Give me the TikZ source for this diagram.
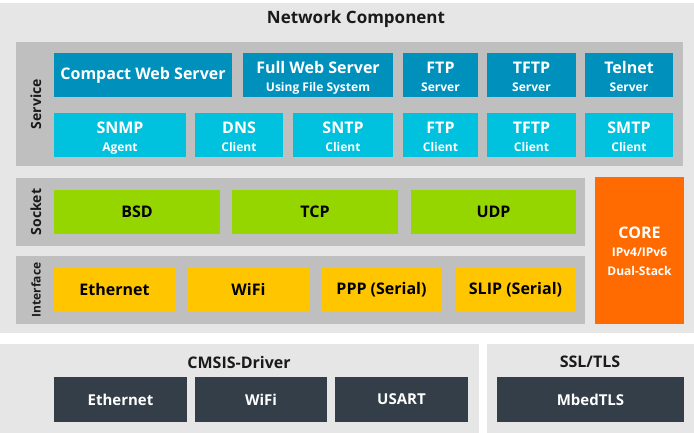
\documentclass[tikz,border=0pt]{standalone}
\usepackage{fontspec}
\setmainfont{Open Sans}
\usepackage{xcolor}
\usepackage{tikz}

\definecolor{lightpanel}{HTML}{E6E6E6}
\definecolor{midpanel}{HTML}{BFBFBF}
\definecolor{srvblue}{HTML}{0090BC}
\definecolor{cliblue}{HTML}{00C1DE}
\definecolor{sockgreen}{HTML}{95D600}
\definecolor{ifyellow}{HTML}{FFC600}
\definecolor{coreorange}{HTML}{FF6B00}
\definecolor{drvslate}{HTML}{333E48}
\definecolor{titletext}{HTML}{1A1A1A}

\newcommand{\boxsub}[1]{{\fontsize{12}{14}\selectfont #1}}

\tikzset{
  box/.style={inner sep=0pt,minimum height=44pt,align=center,font=\bfseries\fontsize{16}{21}\selectfont},
  twoline/.style={font=\bfseries\fontsize{16}{18.5}\selectfont,text height=34pt,text depth=0pt},
  srv/.style={box,fill=srvblue,text=white},
  cli/.style={box,fill=cliblue,text=white},
  sock/.style={box,fill=sockgreen,text=black},
  iface/.style={box,fill=ifyellow,text=black,minimum height=45pt},
  drv/.style={box,fill=drvslate,text=white,minimum height=45pt,font=\bfseries\fontsize{15}{18}\selectfont},
  tag/.style={rotate=90,font=\bfseries\fontsize{14}{16}\selectfont,text=titletext},
  heading/.style={font=\bfseries\fontsize{17}{20}\selectfont,text=titletext}
}

\begin{document}
\begin{tikzpicture}[x=1pt,y=-1pt]
\useasboundingbox[fill=white] (0,0) rectangle (694,433);

\fill[lightpanel] (0,3) rectangle (694,333);
\fill[lightpanel] (0,344) rectangle (479,433);
\fill[lightpanel] (487,344) rectangle (694,433);
\fill[midpanel] (16,42) rectangle (683,166);
\fill[midpanel] (16,178) rectangle (585,246);
\fill[midpanel] (16,256) rectangle (585,324);

\node (net) at (356,19) [heading] {Network Component};
\node (service) at (36,104) [tag] {Service};
\node (socket) at (36,212) [tag] {Socket};
\node (interface) at (36,290) [tag,font=\bfseries\fontsize{12}{14}\selectfont] {Interface};

\node (cws) at (143,75) [srv,minimum width=178pt] {Compact Web Server};
\node (fws) at (318,75) [srv,twoline,minimum width=150pt] {Full Web Server\\\boxsub{Using File System}};
\node (ftps) at (440.5,75) [srv,twoline,minimum width=75pt] {FTP\\\boxsub{Server}};
\node (tftps) at (531.5,75) [srv,twoline,minimum width=89pt] {TFTP\\\boxsub{Server}};
\node (telnet) at (629,75) [srv,twoline,minimum width=88pt] {Telnet\\\boxsub{Server}};

\node (snmp) at (120,135) [cli,twoline,minimum width=132pt] {SNMP\\\boxsub{Agent}};
\node (dns) at (239,135) [cli,twoline,minimum width=88pt] {DNS\\\boxsub{Client}};
\node (sntp) at (343,135) [cli,twoline,minimum width=100pt] {SNTP\\\boxsub{Client}};
\node (ftpc) at (440.5,135) [cli,twoline,minimum width=75pt] {FTP\\\boxsub{Client}};
\node (tftpc) at (531.5,135) [cli,twoline,minimum width=89pt] {TFTP\\\boxsub{Client}};
\node (smtp) at (629,135) [cli,twoline,minimum width=88pt] {SMTP\\\boxsub{Client}};

\node (bsd) at (137,212) [sock,minimum width=166pt] {BSD};
\node (tcp) at (315,212) [sock,minimum width=166pt] {TCP};
\node (udp) at (493.5,212) [sock,minimum width=165pt] {UDP};

\node (eth) at (114.5,289.5) [iface,minimum width=121pt] {Ethernet};
\node (wifi) at (248.5,289.5) [iface,minimum width=121pt] {WiFi};
\node (ppp) at (381.5,289.5) [iface,minimum width=121pt] {PPP (Serial)};
\node (slip) at (515.5,289.5) [iface,minimum width=121pt] {SLIP (Serial)};

\node (core) at (639.5,250.5) [box,fill=coreorange,text=white,minimum width=89pt,minimum height=147pt,font=\bfseries\fontsize{16}{18.5}\selectfont,text height=49pt,text depth=0pt] {CORE\\\boxsub{IPv4/IPv6}\\\boxsub{Dual-Stack}};

\node (cmsis) at (239,362) [heading,font=\bfseries\fontsize{16}{18}\selectfont] {CMSIS-Driver};
\node (ssl) at (590,362) [heading,font=\bfseries\fontsize{16}{18}\selectfont] {SSL/TLS};

\node (drveth) at (120.5,399.5) [drv,minimum width=133pt] {Ethernet};
\node (drvwifi) at (261,399.5) [drv,minimum width=132pt] {WiFi};
\node (usart) at (401.5,399.5) [drv,minimum width=133pt] {USART};
\node (mbed) at (590.5,399.5) [drv,minimum width=187pt] {MbedTLS};
\end{tikzpicture}
\end{document}
